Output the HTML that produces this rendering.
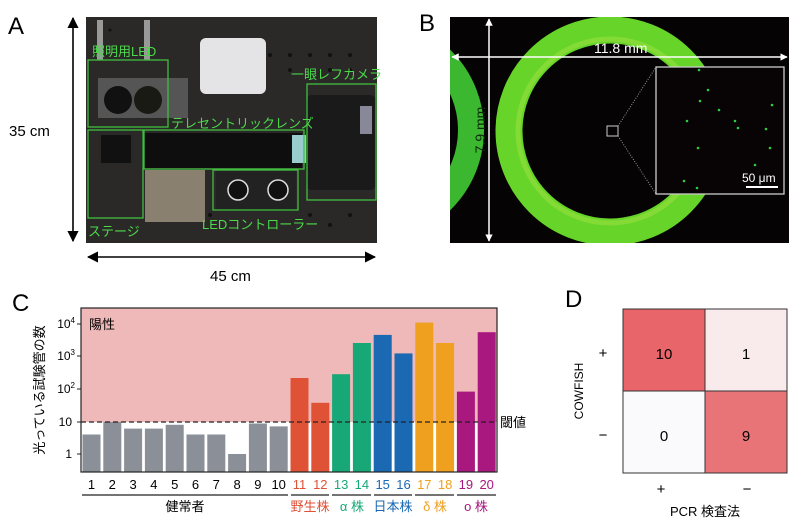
<!DOCTYPE html>
<html><head><meta charset="utf-8"><style>
html,body{margin:0;padding:0;background:#fff;}
svg{display:block;font-family:"Liberation Sans","Noto Sans CJK JP",sans-serif;}
</style></head><body>
<svg width="800" height="529" viewBox="0 0 800 529" xmlns="http://www.w3.org/2000/svg">
<defs>
<marker id="ah" viewBox="0 0 10 10" refX="9" refY="5" markerWidth="7" markerHeight="7" orient="auto-start-reverse"><path d="M0,0L10,5L0,10z" fill="#000"/></marker>
<marker id="aw" viewBox="0 0 10 10" refX="9" refY="5" markerWidth="5" markerHeight="5" orient="auto-start-reverse"><path d="M0,0L10,5L0,10z" fill="#fff"/></marker>
</defs>
<!-- Panel A -->
<text x="8" y="34" font-size="24">A</text>
<rect x="86" y="17" width="291" height="226" fill="#2b2927"/>
<g fill="#111">
<circle cx="110" cy="30" r="1.5"/><circle cx="230" cy="50" r="2"/><circle cx="250" cy="55" r="2"/><circle cx="270" cy="55" r="2"/><circle cx="290" cy="55" r="2"/><circle cx="310" cy="55" r="2"/><circle cx="330" cy="55" r="2"/><circle cx="350" cy="55" r="2"/>
<circle cx="290" cy="70" r="2"/><circle cx="310" cy="70" r="2"/><circle cx="330" cy="70" r="2"/><circle cx="350" cy="70" r="2"/><circle cx="190" cy="200" r="2"/><circle cx="210" cy="215" r="2"/><circle cx="310" cy="215" r="2"/><circle cx="350" cy="215" r="2"/><circle cx="330" cy="225" r="2"/>
</g>
<rect x="200" y="38" width="66" height="56" rx="6" fill="#e4e4e6"/>
<rect x="98" y="78" width="90" height="40" fill="#555"/>
<circle cx="118" cy="100" r="14" fill="#111"/><circle cx="148" cy="100" r="14" fill="#1a1a14"/>
<rect x="97" y="20" width="6" height="40" fill="#999"/><rect x="144" y="20" width="6" height="40" fill="#999"/>
<rect x="142" y="133" width="160" height="35" fill="#0e0e0e"/>
<rect x="292" y="135" width="14" height="28" fill="#9cc"/>
<rect x="306" y="95" width="70" height="95" rx="6" fill="#1a1a1a"/>
<rect x="360" y="106" width="12" height="28" fill="#889"/>
<rect x="145" y="170" width="60" height="52" fill="#8a8070"/>
<rect x="216" y="171" width="80" height="40" fill="#222"/>
<circle cx="238" cy="190" r="10" fill="#111" stroke="#ddd" stroke-width="1.5"/><circle cx="278" cy="190" r="10" fill="#111" stroke="#ddd" stroke-width="1.5"/>
<rect x="101" y="135" width="30" height="28" fill="#111"/>
<g fill="none" stroke="#3fbf3f" stroke-width="1.3">
<rect x="88" y="60" width="80" height="67"/>
<rect x="88" y="130" width="55" height="88"/>
<rect x="144" y="130" width="160" height="39"/>
<rect x="213" y="170" width="85" height="40"/>
<rect x="307" y="84" width="69" height="116"/>
</g>
<g fill="#4cd94c" font-size="13">
<text x="92" y="56">照明用LED</text>
<text x="171" y="128">テレセントリックレンズ</text>
<text x="291" y="79">一眼レフカメラ</text>
<text x="88" y="236">ステージ</text>
<text x="202" y="229">LEDコントローラー</text>
</g>
<line x1="73" y1="18" x2="73" y2="241" stroke="#000" stroke-width="1.6" marker-start="url(#ah)" marker-end="url(#ah)"/>
<line x1="88" y1="257" x2="375" y2="257" stroke="#000" stroke-width="1.6" marker-start="url(#ah)" marker-end="url(#ah)"/>
<text x="9" y="136" font-size="15">35 cm</text>
<text x="210" y="281" font-size="15">45 cm</text>
<!-- Panel B -->
<text x="419" y="31" font-size="24">B</text>
<rect x="450" y="17" width="339" height="226" fill="#050303"/>
<clipPath id="cb"><rect x="450" y="17" width="339" height="226"/></clipPath>
<g clip-path="url(#cb)">
<circle cx="372" cy="130" r="99" fill="none" stroke="#3bb830" stroke-width="26"/>
<circle cx="610" cy="131" r="101" fill="none" stroke="#66d428" stroke-width="27"/>
<circle cx="610" cy="131" r="92" fill="none" stroke="#9ae040" stroke-width="5" opacity="0.6"/>
</g>
<rect x="607" y="126" width="11" height="10" fill="none" stroke="#ccc" stroke-width="1"/>
<line x1="618" y1="126" x2="656" y2="67" stroke="#999" stroke-dasharray="1,1.5"/>
<line x1="618" y1="136" x2="656" y2="194" stroke="#999" stroke-dasharray="1,1.5"/>
<rect x="656" y="67" width="128" height="127" fill="#080405" stroke="#ccc" stroke-width="1.3"/>
<g fill="#2ecc40">
<circle cx="700" cy="101" r="1.3"/><circle cx="719" cy="110" r="1.3"/><circle cx="735" cy="121" r="1.3"/><circle cx="698" cy="148" r="1.3"/><circle cx="770" cy="148" r="1.3"/><circle cx="755" cy="165" r="1.3"/><circle cx="697" cy="188" r="1.3"/><circle cx="699" cy="70" r="1.3"/><circle cx="738" cy="128" r="1.3"/><circle cx="766" cy="129" r="1.3"/><circle cx="684" cy="181" r="1.3"/><circle cx="708" cy="90" r="1.3"/><circle cx="772" cy="105" r="1.3"/><circle cx="687" cy="121" r="1.3"/>
</g>
<line x1="746" y1="187" x2="778" y2="187" stroke="#fff" stroke-width="2"/>
<text x="742" y="182" font-size="12" fill="#fff">50 μm</text>
<line x1="452" y1="57" x2="787" y2="57" stroke="#fff" stroke-width="1.5" marker-start="url(#aw)" marker-end="url(#aw)"/>
<line x1="489" y1="19" x2="489" y2="241" stroke="#fff" stroke-width="1.5" marker-start="url(#aw)" marker-end="url(#aw)"/>
<text x="594" y="53" font-size="14" fill="#fff">11.8 mm</text>
<text transform="translate(485,130) rotate(-90)" text-anchor="middle" font-size="14" fill="#0a2a0a">7.9 mm</text>
<!-- Panel C -->
<text x="12" y="311" font-size="24">C</text>
<rect x="81" y="308" width="416" height="114" fill="#f0b9b9"/>
<g fill="#8a8f98">
<rect x="82.5" y="434.5" width="18" height="37.5"/>
<rect x="103.3" y="422" width="18" height="50"/>
<rect x="124.1" y="428.6" width="18" height="43.4"/>
<rect x="144.9" y="428.6" width="18" height="43.4"/>
<rect x="165.7" y="424.8" width="18" height="47.2"/>
<rect x="186.5" y="434.5" width="18" height="37.5"/>
<rect x="207.3" y="434.5" width="18" height="37.5"/>
<rect x="228.1" y="454" width="18" height="18"/>
<rect x="248.9" y="423.5" width="18" height="48.5"/>
<rect x="269.7" y="426.4" width="18" height="45.6"/>
</g>
<rect x="290.5" y="378" width="18" height="94" fill="#e05236"/>
<rect x="311.3" y="402.8" width="18" height="69.2" fill="#e05236"/>
<rect x="332.1" y="374.2" width="18" height="97.8" fill="#18a877"/>
<rect x="352.9" y="343" width="18" height="129" fill="#18a877"/>
<rect x="373.7" y="334.9" width="18" height="137.1" fill="#1a69b2"/>
<rect x="394.5" y="353.4" width="18" height="118.6" fill="#1a69b2"/>
<rect x="415.3" y="322.6" width="18" height="149.4" fill="#eea01e"/>
<rect x="436.1" y="343" width="18" height="129" fill="#eea01e"/>
<rect x="456.9" y="391.6" width="18" height="80.4" fill="#a8187e"/>
<rect x="477.7" y="332.2" width="18" height="139.8" fill="#a8187e"/>
<line x1="81" y1="422" x2="497" y2="422" stroke="#222" stroke-width="1.2" stroke-dasharray="5,3"/>
<rect x="81" y="308" width="416" height="164" fill="none" stroke="#222" stroke-width="1.2"/>
<g stroke="#222" stroke-width="1">
<line x1="81" y1="324" x2="77" y2="324"/><line x1="81" y1="356" x2="77" y2="356"/><line x1="81" y1="389" x2="77" y2="389"/><line x1="81" y1="422" x2="77" y2="422"/><line x1="81" y1="454" x2="77" y2="454"/>
</g>
<g font-size="12" text-anchor="end">
<text x="75" y="328">10<tspan font-size="8" dy="-5">4</tspan></text>
<text x="75" y="360">10<tspan font-size="8" dy="-5">3</tspan></text>
<text x="75" y="393">10<tspan font-size="8" dy="-5">2</tspan></text>
<text x="72" y="426">10</text>
<text x="72" y="458">1</text>
</g>
<text transform="translate(44,390) rotate(-90)" text-anchor="middle" font-size="13">光っている試験管の数</text>
<text x="89" y="329" font-size="13">陽性</text>
<text x="500" y="427" font-size="13">閾値</text>
<g font-size="13" text-anchor="middle">
<text x="91.5" y="489">1</text><text x="112.3" y="489">2</text><text x="133.1" y="489">3</text><text x="153.9" y="489">4</text><text x="174.7" y="489">5</text><text x="195.5" y="489">6</text><text x="216.3" y="489">7</text><text x="237.1" y="489">8</text><text x="257.9" y="489">9</text><text x="278.7" y="489">10</text>
<text x="299.5" y="489" fill="#e05236">11</text><text x="320.3" y="489" fill="#e05236">12</text>
<text x="341.1" y="489" fill="#18a877">13</text><text x="361.9" y="489" fill="#18a877">14</text>
<text x="382.7" y="489" fill="#1a69b2">15</text><text x="403.5" y="489" fill="#1a69b2">16</text>
<text x="424.3" y="489" fill="#eea01e">17</text><text x="445.1" y="489" fill="#eea01e">18</text>
<text x="465.9" y="489" fill="#a8187e">19</text><text x="486.7" y="489" fill="#a8187e">20</text>
</g>
<g stroke="#222" stroke-width="1.2">
<line x1="82" y1="495" x2="288" y2="495"/><line x1="291" y1="495" x2="329" y2="495"/><line x1="332" y1="495" x2="371" y2="495"/><line x1="374" y1="495" x2="412" y2="495"/><line x1="415" y1="495" x2="454" y2="495"/><line x1="457" y1="495" x2="496" y2="495"/>
</g>
<g font-size="13" text-anchor="middle">
<text x="185" y="511">健常者</text>
<text x="310" y="511" fill="#e05236">野生株</text>
<text x="352" y="511" fill="#18a877">α 株</text>
<text x="393" y="511" fill="#1a69b2">日本株</text>
<text x="435" y="511" fill="#eea01e">δ 株</text>
<text x="476" y="511" fill="#a8187e">ο 株</text>
</g>
<!-- Panel D -->
<text x="565" y="307" font-size="24">D</text>
<rect x="623" y="309" width="82" height="82" fill="#e8666a"/>
<rect x="705" y="309" width="82" height="82" fill="#f9eaec"/>
<rect x="623" y="391" width="82" height="82" fill="#fafafc"/>
<rect x="705" y="391" width="82" height="82" fill="#e97478"/>
<g fill="none" stroke="#333" stroke-width="1">
<rect x="623" y="309" width="164" height="164"/><line x1="705" y1="309" x2="705" y2="473"/><line x1="623" y1="391" x2="787" y2="391"/>
</g>
<g font-size="15" text-anchor="middle">
<text x="664" y="359">10</text><text x="746" y="359">1</text><text x="664" y="441">0</text><text x="746" y="441">9</text>
</g>
<g font-size="15" text-anchor="middle">
<text x="603" y="358">+</text><text x="603" y="440">−</text>
<text x="661" y="494">+</text><text x="747" y="494">−</text>
</g>
<text transform="translate(583,391) rotate(-90)" text-anchor="middle" font-size="12">COWFISH</text>
<text x="705" y="516" text-anchor="middle" font-size="13">PCR 検査法</text>
</svg>
</body></html>
